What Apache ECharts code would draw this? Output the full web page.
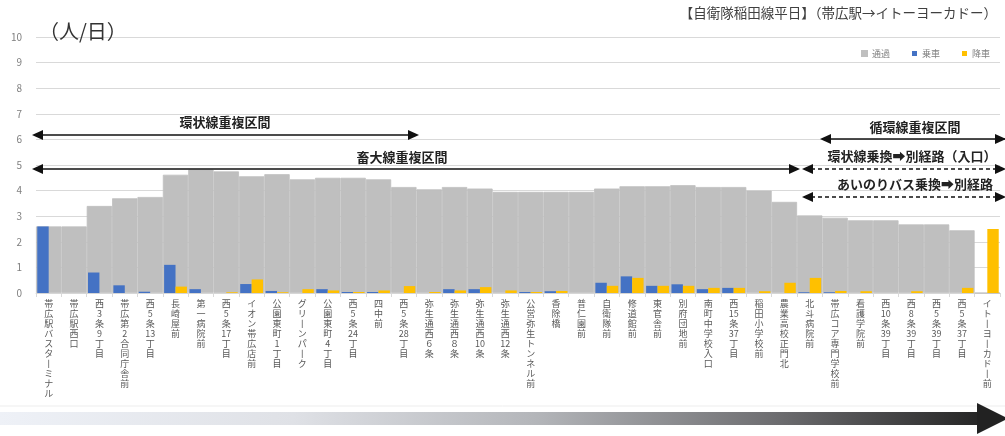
<!DOCTYPE html>
<html><head><meta charset="utf-8">
<script src="https://cdn.jsdelivr.net/npm/echarts@6/dist/echarts.min.js"></script>
<style>html,body{margin:0;padding:0;background:#fff}#c{width:1005px;height:436px}</style>
</head><body><div id="c"></div>
<script>
const categories = ['帯広駅バスターミナル','帯広駅西口','西3条9丁目','帯広第2合同庁舎前','西5条13丁目','長崎屋前','第一病院前','西5条17丁目','イオン帯広店前','公園東町1丁目','グリーンパーク','公園東町4丁目','西5条24丁目','四中前','西5条28丁目','弥生通西６条','弥生通西８条','弥生通西10条','弥生通西12条','公営弥生トンネル前','香除橋','普仁園前','自衛隊前','修道館前','東官舎前','別府団地前','南町中学校入口','西15条37丁目','稲田小学校前','農業高校正門北','北斗病院前','帯広コア専門学校前','看護学院前','西10条39丁目','西8条39丁目','西5条39丁目','西5条37丁目','イトーヨーカドー前'];
const passing   = [2.6,2.6,3.4,3.7,3.75,4.62,4.82,4.75,4.56,4.64,4.44,4.5,4.5,4.44,4.14,4.05,4.14,4.08,3.95,3.95,3.95,3.95,4.08,4.17,4.17,4.21,4.14,4.14,4.0,3.56,3.03,2.94,2.84,2.84,2.68,2.68,2.45,0];
const boarding  = [2.6,0,0.8,0.3,0.05,1.1,0.15,0,0.35,0.08,0,0.15,0.04,0.04,0,0,0.15,0.15,0,0.04,0.07,0,0.4,0.65,0.28,0.34,0.15,0.2,0,0,0.03,0.03,0,0,0,0,0,0];
const alighting = [0,0,0,0,0,0.25,0,0.03,0.53,0.03,0.15,0.1,0.04,0.1,0.27,0.04,0.1,0.23,0.1,0.04,0.08,0,0.28,0.59,0.28,0.28,0.2,0.2,0.07,0.4,0.59,0.08,0.07,0,0.07,0,0.2,2.5];
const yTicks = [0,1,2,3,4,5,6,7,8,9,10];

const FONT = '"Noto Sans CJK JP","Noto Sans",sans-serif';
function vert(s){
  const t = s.match(/[0-9]+|./g);
  return t.map(c => c === 'ー' ? '丨' : c).join('\n');
}
function head(x, y, dir){
  const L = 11, H = 5;
  const pts = dir > 0 ? [[x, y], [x - L, y - H], [x - L, y + H]] : [[x, y], [x + L, y - H], [x + L, y + H]];
  return {type:'polygon', shape:{points:pts}, style:{fill:'#111'}, z:20};
}
function line(x1, x2, y, dashed){
  return {type:'line', shape:{x1:x1, y1:y, x2:x2, y2:y}, style:{stroke:'#111', lineWidth:1.6, lineDash: dashed ? [4,3] : null}, z:20};
}
function label(text, cx, cy){
  return {type:'text', x:cx, y:cy, style:{text:text, font:'bold 13px ' + FONT, fill:'#222', textAlign:'center', textVerticalAlign:'middle'}, z:20};
}

const chart = echarts.init(document.getElementById('c'));
chart.setOption({
  animation:false,
  backgroundColor:'#fff',
  textStyle:{fontFamily:FONT},
  grid:{left:36, right:5, top:37, bottom:143},
  legend:{
    right:10, top:44, itemWidth:5, itemHeight:5, itemGap:22,
    icon:'rect',
    textStyle:{fontSize:9, color:'#808080', fontFamily:FONT},
    data:['通過','乗車','降車']
  },
  xAxis:[
    {type:'category', data:categories, position:'bottom',
     axisLine:{show:true, lineStyle:{color:'#d9d9d9'}},
     axisTick:{show:true, length:4, lineStyle:{color:'#d9d9d9'}},
     axisLabel:{interval:0, fontSize:9, lineHeight:10, color:'#595959', margin:6, formatter:vert, fontFamily:FONT}},
    {type:'category', data:categories, position:'bottom', show:false}
  ],
  yAxis:{type:'value', min:0, max:10, interval:1,
    axisLine:{show:false}, axisTick:{show:false},
    axisLabel:{fontSize:10, color:'#7f7f7f', margin:14, formatter: v => yTicks.includes(v) ? String(v) : ''},
    splitLine:{lineStyle:{color:'#d9d9d9', width:1}}},
  series:[
    {name:'通過', type:'bar', xAxisIndex:1, data:passing, barWidth:'100%', itemStyle:{color:'#bfbfbf', borderColor:'#bfbfbf', borderWidth:0.8}, z:1},
    {name:'乗車', type:'bar', xAxisIndex:0, data:boarding, barGap:'0%', barCategoryGap:'10%', itemStyle:{color:'#4472c4'}, z:3},
    {name:'降車', type:'bar', xAxisIndex:0, data:alighting, barGap:'0%', barCategoryGap:'10%', itemStyle:{color:'#ffc000'}, z:3}
  ],
  graphic:[
    {type:'text', right:8, top:6, style:{text:'【自衛隊稲田線平日】（帯広駅→イトーヨーカドー）', font:'13.5px ' + FONT, fill:'#404040'}},
    {type:'text', left:39, top:21, style:{text:'（人/日）', font:'20px ' + FONT, fill:'#333'}, z:20},
    label('環状線重複区間', 225, 122),
    line(34, 416, 135, false), head(32, 135, -1), head(419, 135, 1),
    label('畜大線重複区間', 402, 157),
    line(34, 798, 169, false), head(32, 169, -1), head(800, 169, 1),
    label('循環線重複区間', 915, 127),
    line(822, 1005, 139, false), head(820, 139, -1), head(1006, 139, 1),
    label('環状線乗換➡別経路（入口）', 912, 156),
    line(804, 1005, 169, true), head(802, 169, -1), head(1006, 169, 1),
    label('あいのりバス乗換➡別経路', 915, 184),
    line(804, 1005, 197, true), head(802, 197, -1), head(1006, 197, 1),
    {type:'line', shape:{x1:0, y1:406, x2:1005, y2:406}, style:{stroke:'#ededed', lineWidth:1}},
    {type:'rect', shape:{x:0, y:412, width:978, height:13},
     style:{fill:new echarts.graphic.LinearGradient(0,0,1,0,[
       {offset:0, color:'#eef1f7'},{offset:0.3, color:'#dfe1e6'},{offset:0.55, color:'#b3b5b9'},{offset:0.8, color:'#6b6b6e'},{offset:1, color:'#262626'}])}},
    {type:'polygon', shape:{points:[[977,403],[1008,418.5],[977,434]]}, style:{fill:'#222'}}
  ]
});
</script>
</body></html>
